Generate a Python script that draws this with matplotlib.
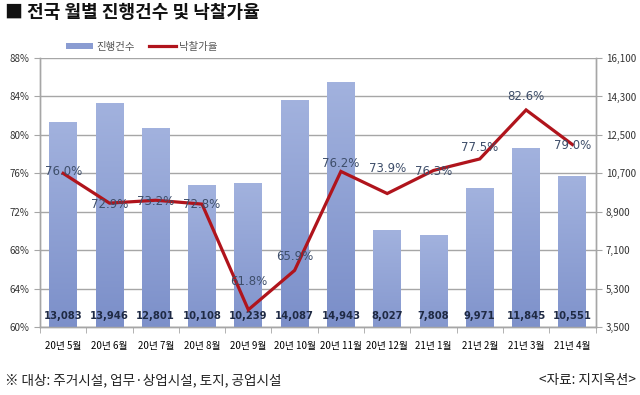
import matplotlib
matplotlib.use("Agg")
import matplotlib.pyplot as plt
import numpy as np
from matplotlib.patches import Patch
from matplotlib.lines import Line2D
from matplotlib.colors import LinearSegmentedColormap

plt.rcParams['font.family'] = ['Noto Sans CJK KR', 'DejaVu Sans']

months = ["20년 5월", "20년 6월", "20년 7월", "20년 8월", "20년 9월", "20년 10월",
          "20년 11월", "20년 12월", "21년 1월", "21년 2월", "21년 3월", "21년 4월"]
counts = [13083, 13946, 12801, 10108, 10239, 14087, 14943, 8027, 7808, 9971, 11845, 10551]
rates = [76.0, 72.9, 73.2, 72.8, 61.8, 65.9, 76.2, 73.9, 76.3, 77.5, 82.6, 79.0]
left_ticks = [60, 64, 68, 72, 76, 80, 84, 88]
right_ticks = [3500, 5300, 7100, 8900, 10700, 12500, 14300, 16100]

# label vertical offsets (points) for the rate labels
rate_label_dy = [1, -1, -1, 0, 20, 10, 6, 18, -1, 8, 10, -1]

fig = plt.figure(figsize=(6.4, 3.95), dpi=100)
ax = fig.add_axes([0.0625, 0.172, 0.868, 0.681])
ax2 = ax.twinx()
ax.set_zorder(ax2.get_zorder() + 1)
ax.patch.set_visible(False)

x = np.arange(len(months))
grid_c = "#A6A6A6"

# bars on right axis
ax2.set_ylim(right_ticks[0], right_ticks[-1])
ax2.set_yticks(right_ticks)
ax2.set_yticklabels([f"{v:,}" for v in right_ticks])
ax2.grid(axis='y', color=grid_c, linewidth=1)
ax2.set_axisbelow(True)
bars = ax2.bar(x, counts, width=0.6, color="#8797CF", zorder=2)
cmap = LinearSegmentedColormap.from_list("g", ["#6E83C2", "#A2B2DE"])
grad = np.linspace(0, 1, 256).reshape(-1, 1)
for b in bars:
    x0, y0 = b.get_x(), b.get_y()
    w, h = b.get_width(), b.get_height()
    ax2.imshow(grad, extent=[x0, x0 + w, y0, y0 + h], origin='lower',
               aspect='auto', cmap=cmap, zorder=3)
    b.set_visible(False)

for xi, c in zip(x, counts):
    ax2.annotate(f"{c:,}", xy=(xi, right_ticks[0]), xytext=(0, 8),
                 textcoords='offset points', ha='center', va='center',
                 fontsize=7.2, fontweight='bold', color="#1F2A44", zorder=5,
                 family=['DejaVu Sans'])

# line on left axis
ax.set_xlim(-0.5, len(months) - 0.5)
ax.set_ylim(left_ticks[0], left_ticks[-1])
ax.set_yticks(left_ticks)
ax.set_yticklabels([f"{v}%" for v in left_ticks])
ax.plot(x, rates, color="#B0141C", linewidth=2.3, zorder=4, solid_joinstyle='miter')
for xi, r, dy in zip(x, rates, rate_label_dy):
    ax.annotate(f"{r:.1f}%", xy=(xi, r), xytext=(0, dy), textcoords='offset points',
                ha='center', va='center', fontsize=8.5, color="#3E4E6A", zorder=6,
                family=['DejaVu Sans'])

ax.set_xticks(x)
ax.set_xticklabels(months)
ax.set_xticks(np.arange(-0.5, len(months), 1), minor=True)
ax.tick_params(axis='x', which='major', length=0, labelsize=7, pad=10)
ax.tick_params(axis='x', which='minor', length=4, color=grid_c)
ax.tick_params(axis='y', labelsize=7, length=4, color=grid_c, colors="#333333")
ax2.tick_params(axis='y', labelsize=7, length=4, color=grid_c, colors="#333333")
ax.tick_params(axis='y', color=grid_c)
ax2.tick_params(axis='y', color=grid_c)

for a in (ax, ax2):
    a.spines['top'].set_visible(False)
    for s in ('left', 'right', 'bottom'):
        a.spines[s].set_color(grid_c)
        a.spines[s].set_linewidth(1)

handles = [Patch(facecolor="#8A9CD2", edgecolor='none'),
           Line2D([0], [0], color="#B0141C", linewidth=2.3)]
fig.legend(handles, ["진행건수", "낙찰가율"], loc='center left',
           bbox_to_anchor=(0.088, 0.882), ncol=2, frameon=False, fontsize=7.5,
           handlelength=2.6, handleheight=0.5, columnspacing=1.4, handletextpad=0.3,
           labelcolor="#555555")

fig.text(0.008, 0.968, "■ 전국 월별 진행건수 및 낙찰가율", fontsize=13, fontweight='bold',
         ha='left', va='center', color="#111111")
fig.text(0.008, 0.038, "※ 대상: 주거시설, 업무·상업시설, 토지, 공업시설", fontsize=9.8,
         ha='left', va='center', color="#222222")
fig.text(0.993, 0.038, "<자료: 지지옥션>", fontsize=9.8, ha='right', va='center',
         color="#222222")

fig.savefig("out.png", dpi=100)
